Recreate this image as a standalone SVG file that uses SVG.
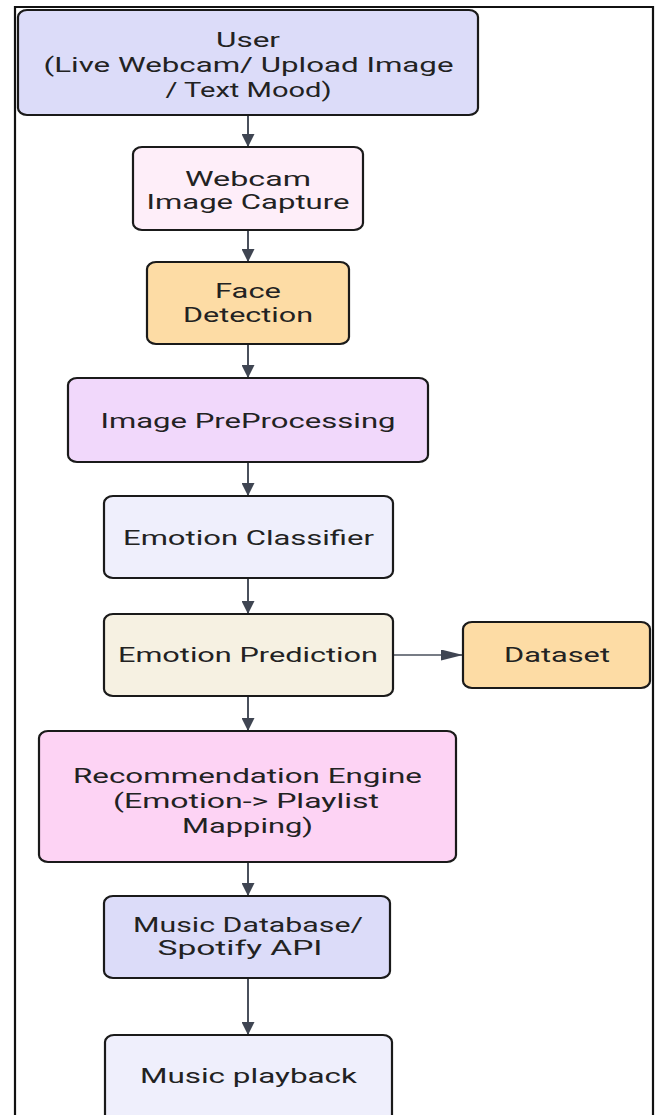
<svg xmlns="http://www.w3.org/2000/svg" width="658" height="1115" viewBox="0 0 658 1115">
  <style>
    .box { stroke: #1a1a1a; stroke-width: 2.2; }
    .lbl { font-family: Roboto, "Liberation Sans", Arial, sans-serif; font-size: 20px; fill: #222222; text-anchor: middle; }
    .edge { stroke: #4a505c; fill: none; }
    .v { stroke-width: 2; }
    .h { stroke-width: 1.4; }
    .frame { fill: none; stroke: #111; stroke-width: 2.2; }
  </style>
  <defs>
    <marker id="headV" markerUnits="userSpaceOnUse" orient="auto" markerWidth="13" markerHeight="13" refX="13" refY="6.5">
      <path d="M0,0 L13,6.5 L0,13 z" fill="#3f4552"/>
    </marker>
    <marker id="headH" markerUnits="userSpaceOnUse" orient="auto" markerWidth="22" markerHeight="11" refX="22" refY="5.5">
      <path d="M0,0 L22,5.5 L0,11 z" fill="#3f4552"/>
    </marker>
  </defs>

  <rect width="658" height="1115" fill="#ffffff"/>
  <!-- outer frame, open at the bottom -->
  <path class="frame" d="M15,1118 V7 H653 V1118"/>

  <g id="connectors">
    <line class="edge v" x1="248" y1="115" x2="248" y2="147" marker-end="url(#headV)"/>
    <line class="edge v" x1="248" y1="230" x2="248" y2="262" marker-end="url(#headV)"/>
    <line class="edge v" x1="248" y1="344" x2="248" y2="378" marker-end="url(#headV)"/>
    <line class="edge v" x1="248" y1="462" x2="248" y2="496" marker-end="url(#headV)"/>
    <line class="edge v" x1="248" y1="578" x2="248" y2="614" marker-end="url(#headV)"/>
    <line class="edge v" x1="248" y1="696" x2="248" y2="731" marker-end="url(#headV)"/>
    <line class="edge v" x1="248" y1="862" x2="248" y2="896" marker-end="url(#headV)"/>
    <line class="edge v" x1="248" y1="978" x2="248" y2="1035" marker-end="url(#headV)"/>
    <line class="edge h" x1="393" y1="655" x2="463" y2="655" marker-end="url(#headH)"/>
  </g>

  <g id="user">
    <rect class="box" x="18" y="10" width="460" height="105" rx="9" ry="7" fill="#dcdcf9"/>
    <text class="lbl" x="248" y="47" textLength="64" lengthAdjust="spacingAndGlyphs">User</text>
    <text class="lbl" x="248.5" y="72" textLength="410" lengthAdjust="spacingAndGlyphs">(Live Webcam/ Upload Image</text>
    <text class="lbl" x="248.5" y="97" textLength="166" lengthAdjust="spacingAndGlyphs">/ Text Mood)</text>
  </g>

  <g id="webcam">
    <rect class="box" x="133" y="147" width="230" height="83" rx="9" ry="7" fill="#feeef9"/>
    <text class="lbl" x="248" y="186" textLength="126" lengthAdjust="spacingAndGlyphs">Webcam</text>
    <text class="lbl" x="248" y="209" textLength="203" lengthAdjust="spacingAndGlyphs">Image Capture</text>
  </g>

  <g id="face">
    <rect class="box" x="147" y="262" width="202" height="82" rx="9" ry="7" fill="#fddca5"/>
    <text class="lbl" x="248" y="298" textLength="66" lengthAdjust="spacingAndGlyphs">Face</text>
    <text class="lbl" x="248" y="322" textLength="130" lengthAdjust="spacingAndGlyphs">Detection</text>
  </g>

  <g id="preprocess">
    <rect class="box" x="68" y="378" width="360" height="84" rx="9" ry="7" fill="#f1d8fb"/>
    <text class="lbl" x="248" y="428" textLength="295" lengthAdjust="spacingAndGlyphs">Image PreProcessing</text>
  </g>

  <g id="classifier">
    <rect class="box" x="104" y="496" width="289" height="82" rx="9" ry="7" fill="#efeffc"/>
    <text class="lbl" x="248.5" y="545" textLength="251" lengthAdjust="spacingAndGlyphs">Emotion Classifier</text>
  </g>

  <g id="prediction">
    <rect class="box" x="104" y="614" width="289" height="82" rx="9" ry="7" fill="#f6f1e2"/>
    <text class="lbl" x="248" y="662" textLength="260" lengthAdjust="spacingAndGlyphs">Emotion Prediction</text>
  </g>

  <g id="dataset">
    <rect class="box" x="463" y="622" width="187" height="66" rx="9" ry="7" fill="#fddca5"/>
    <text class="lbl" x="557" y="662" textLength="106" lengthAdjust="spacingAndGlyphs">Dataset</text>
  </g>

  <g id="recommendation">
    <rect class="box" x="39" y="731" width="417" height="131" rx="9" ry="7" fill="#fdd3f4"/>
    <text class="lbl" x="247.5" y="783" textLength="349" lengthAdjust="spacingAndGlyphs">Recommendation Engine</text>
    <text class="lbl" x="246" y="808" textLength="266" lengthAdjust="spacingAndGlyphs">(Emotion-&gt; Playlist</text>
    <text class="lbl" x="247.5" y="833" textLength="131" lengthAdjust="spacingAndGlyphs">Mapping)</text>
  </g>

  <g id="music-db">
    <rect class="box" x="104" y="896" width="286" height="82" rx="9" ry="7" fill="#dcdcf9"/>
    <text class="lbl" x="248" y="932" textLength="230" lengthAdjust="spacingAndGlyphs">Music Database/</text>
    <text class="lbl" x="240" y="955" textLength="165" lengthAdjust="spacingAndGlyphs">Spotify API</text>
  </g>

  <g id="playback">
    <rect class="box" x="105" y="1035" width="287" height="92" rx="9" ry="7" fill="#efeffc"/>
    <text class="lbl" x="248.5" y="1083" textLength="217" lengthAdjust="spacingAndGlyphs">Music playback</text>
  </g>
</svg>
